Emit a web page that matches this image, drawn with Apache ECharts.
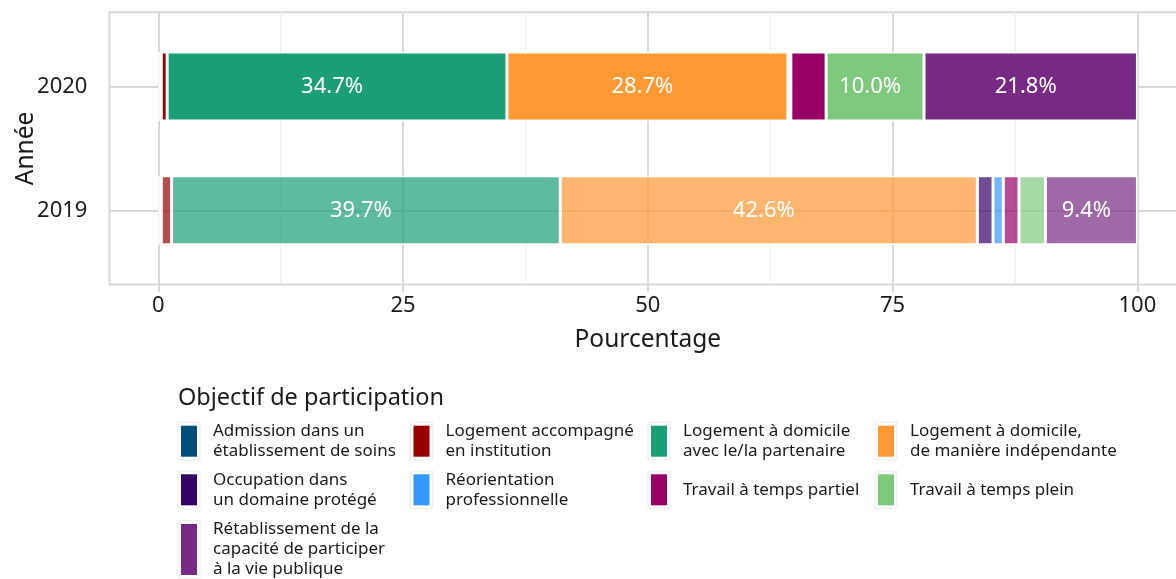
<!DOCTYPE html>
<html><head><meta charset="utf-8">
<script src="https://cdn.jsdelivr.net/npm/echarts@6/dist/echarts.min.js"></script>
<style>html,body{margin:0;padding:0;background:#fff}#c{width:1176px;height:579px}</style>
</head><body><div id="c"></div>
<script>
const years = ['2019', '2020'];
const categories = [
  'Admission dans un établissement de soins',
  'Logement accompagné en institution',
  'Logement à domicile avec le/la partenaire',
  'Logement à domicile, de manière indépendante',
  'Occupation dans un domaine protégé',
  'Réorientation professionnelle',
  'Travail à temps partiel',
  'Travail à temps plein',
  'Rétablissement de la capacité de participer à la vie publique'
];
const legendLabels = [
  'Admission dans un\nétablissement de soins',
  'Logement accompagné\nen institution',
  'Logement à domicile\navec le/la partenaire',
  'Logement à domicile,\nde manière indépendante',
  'Occupation dans\nun domaine protégé',
  'Réorientation\nprofessionnelle',
  'Travail à temps partiel',
  'Travail à temps plein',
  'Rétablissement de la\ncapacité de participer\nà la vie publique'
];
const values2019 = [0.3, 1.05, 39.7, 42.6, 1.6, 1.05, 1.6, 2.7, 9.4];
const values2020 = [0.3, 0.6, 34.7, 28.7, 0.3, 0, 3.6, 10.0, 21.8];
const xTicks = [0, 25, 50, 75, 100];
const colors = ['#004E79', '#990000', '#1B9E77', '#FF9933', '#330066', '#3399FF', '#990066', '#7FC97F', '#762A83'];

const FONT = 'Noto Sans';
const TXT = '#1a1a1a';
const GRID = '#d9d9d9';

function rgba(hex, a) {
  const n = parseInt(hex.slice(1), 16);
  return 'rgba(' + ((n >> 16) & 255) + ',' + ((n >> 8) & 255) + ',' + (n & 255) + ',' + a + ')';
}

// layout
const panel = {x: 109.4, y: 12.2, w: 1077, h: 272.3};
const colX = [181, 413.5, 651, 878];
const rowY = [425.7, 474.3, 524];

const series = categories.map((name, i) => {
  const s = {
    name: name, type: 'bar', stack: 'total', xAxisIndex: 1, yAxisIndex: 1,
    barWidth: 69, z: 2,
    emphasis: {disabled: true},
    itemStyle: {color: colors[i], borderColor: '#fff', borderWidth: 1.5},
    label: {
      show: true, position: 'inside', color: '#fff', fontSize: 22, fontFamily: FONT,
      textBorderWidth: 0, offset: [-5, 0],
      formatter: p => (p.value >= 5 ? p.value.toFixed(1) + '%' : '')
    },
    data: [
      {value: values2019[i], itemStyle: {color: rgba(colors[i], 0.7)}},
      values2020[i]
    ]
  };
  if (i === 0) {
    s.markLine = {
      silent: true, z: 1, symbol: ['none', 'none'], animation: false,
      label: {show: false},
      lineStyle: {color: GRID, width: 2, type: 'solid'},
      emphasis: {disabled: true},
      data: years.map(y => ({yAxis: y}))
    };
  }
  return s;
});

const legends = categories.map((name, i) => {
  const lines = legendLabels[i].split('\n').length;
  const ih = lines === 3 ? 51 : 31;
  const off = Math.max(0, (lines * 20 - ih) / 2);
  return {
    data: [name], orient: 'vertical', padding: 0, itemGap: 0,
    left: colX[i % 4], top: rowY[Math.floor(i / 4)] - off,
    itemWidth: 16, itemHeight: ih, icon: 'rect', selectedMode: false,
    itemStyle: {borderWidth: 0},
    formatter: () => legendLabels[i],
    textStyle: {fontSize: 17, lineHeight: 20, color: TXT, fontFamily: FONT, padding: [0, 0, 0, 11]}
  };
});

const graphics = [{
  type: 'rect', silent: true, z: 0,
  shape: {x: panel.x, y: panel.y, width: panel.w, height: panel.h},
  style: {fill: 'none', stroke: GRID, lineWidth: 2}
}];
categories.forEach((name, i) => {
  const lines = legendLabels[i].split('\n').length;
  const ih = lines === 3 ? 51 : 31;
  graphics.push({
    type: 'rect', silent: true, z: 0,
    shape: {x: colX[i % 4] - 3, y: rowY[Math.floor(i / 4)] - 3.3, width: 22, height: ih + 6.6},
    style: {fill: '#fff', stroke: '#ebebeb', lineWidth: 1}
  });
});

const option = {
  animation: false,
  backgroundColor: '#fff',
  textStyle: {fontFamily: FONT},
  title: {
    text: 'Objectif de participation', left: 178, top: 386, padding: 0,
    textStyle: {fontSize: 23.5, fontWeight: 'normal', color: TXT, fontFamily: FONT}
  },
  legend: legends,
  graphic: graphics,
  grid: [
    {left: 158.35, top: panel.y, width: 979, height: panel.h, outerBoundsMode: 'none', containLabel: false},
    {left: panel.x, top: 24.6, width: panel.w, height: 247.6, outerBoundsMode: 'none', containLabel: false}
  ],
  xAxis: [
    {
      gridIndex: 0, type: 'value', min: 0, max: 100, interval: 25,
      axisLine: {show: false},
      axisTick: {show: true, length: 7.5, customValues: xTicks, lineStyle: {color: GRID, width: 2}},
      axisLabel: {fontSize: 22, color: TXT, margin: 10, customValues: xTicks},
      splitLine: {show: true, lineStyle: {color: GRID, width: 2}},
      minorTick: {show: false, splitNumber: 2},
      minorSplitLine: {show: true, lineStyle: {color: '#ededed', width: 1}},
      name: 'Pourcentage', nameLocation: 'middle', nameGap: 43,
      nameTextStyle: {fontSize: 24.5, color: TXT, fontFamily: FONT}
    },
    {gridIndex: 1, type: 'value', min: -5, max: 105, show: false}
  ],
  yAxis: [
    {gridIndex: 0, type: 'value', min: 0, max: 1, show: false},
    {
      gridIndex: 1, type: 'category', data: years,
      axisLine: {show: false},
      axisTick: {show: true, alignWithLabel: true, length: 8, lineStyle: {color: GRID, width: 2}},
      axisLabel: {fontSize: 22, color: TXT, margin: 22},
      splitLine: {show: false},
      name: 'Année', nameLocation: 'middle', nameGap: 71, nameRotate: 90, nameMoveOverlap: false,
      nameTextStyle: {fontSize: 24.5, color: TXT, fontFamily: FONT}
    }
  ],
  series: series
};

const chart = echarts.init(document.getElementById('c'), null, {renderer: 'canvas'});
chart.setOption(option);
</script>
</body></html>
